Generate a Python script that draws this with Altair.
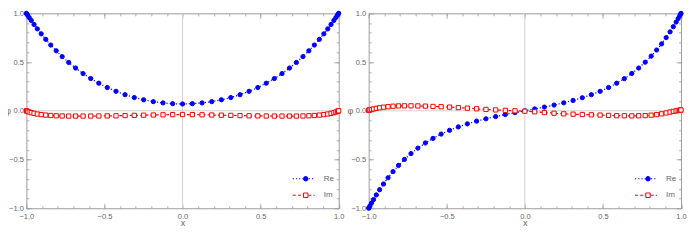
import altair as alt
import pandas as pd

# Chebyshev-like sample positions
XS = [-1.0, -0.998, -0.992, -0.982, -0.969, -0.951, -0.930, -0.905, -0.876, -0.844,
      -0.809, -0.771, -0.729, -0.685, -0.637, -0.588, -0.536, -0.482, -0.426, -0.368,
      -0.309, -0.249, -0.187, -0.125, -0.063, 0.0, 0.063, 0.125, 0.187, 0.249,
      0.309, 0.368, 0.426, 0.482, 0.536, 0.588, 0.637, 0.685, 0.729, 0.771,
      0.809, 0.844, 0.876, 0.905, 0.930, 0.951, 0.969, 0.982, 0.992, 0.998, 1.0]

LEFT_RE = [1.000, 0.995, 0.981, 0.957, 0.927, 0.886, 0.841, 0.790, 0.733, 0.675,
           0.616, 0.556, 0.496, 0.439, 0.382, 0.331, 0.283, 0.239, 0.200, 0.165,
           0.136, 0.113, 0.094, 0.081, 0.073, 0.070, 0.073, 0.081, 0.094, 0.113,
           0.136, 0.165, 0.200, 0.239, 0.283, 0.331, 0.382, 0.439, 0.496, 0.556,
           0.616, 0.675, 0.733, 0.790, 0.841, 0.886, 0.927, 0.957, 0.981, 0.995, 1.000]

LEFT_IM = [0.000, -0.002, -0.006, -0.012, -0.019, -0.026, -0.033, -0.039, -0.044, -0.048,
           -0.051, -0.053, -0.054, -0.054, -0.054, -0.054, -0.053, -0.052, -0.051, -0.049,
           -0.047, -0.045, -0.043, -0.041, -0.039, -0.038, -0.039, -0.041, -0.043, -0.045,
           -0.047, -0.049, -0.051, -0.052, -0.053, -0.054, -0.054, -0.054, -0.054, -0.053,
           -0.051, -0.048, -0.044, -0.039, -0.033, -0.026, -0.019, -0.012, -0.006, -0.002, 0.000]

RIGHT_RE = [-1.000, -0.994, -0.976, -0.947, -0.911, -0.863, -0.810, -0.751, -0.687, -0.624,
            -0.561, -0.499, -0.439, -0.383, -0.330, -0.283, -0.239, -0.200, -0.165, -0.134,
            -0.106, -0.082, -0.059, -0.038, -0.019, 0.000, 0.019, 0.038, 0.059, 0.082,
            0.106, 0.134, 0.165, 0.200, 0.239, 0.283, 0.330, 0.383, 0.439, 0.499,
            0.561, 0.624, 0.687, 0.751, 0.810, 0.863, 0.911, 0.947, 0.976, 0.994, 1.000]

RIGHT_IM = [0.005, 0.007, 0.010, 0.014, 0.019, 0.025, 0.031, 0.037, 0.042, 0.047,
            0.050, 0.051, 0.051, 0.050, 0.048, 0.045, 0.042, 0.038, 0.033, 0.027,
            0.021, 0.014, 0.009, 0.004, 0.000, -0.004, -0.010, -0.018, -0.025, -0.031,
            -0.035, -0.038, -0.041, -0.044, -0.047, -0.050, -0.051, -0.052, -0.051, -0.049,
            -0.045, -0.039, -0.031, -0.022, -0.013, -0.006, -0.001, 0.003, 0.006, 0.007, 0.008]

SERIES = ["Re", "Im"]
ZERO = [0.0]
MAJOR_TICKS = [-1.0, -0.5, 0.0, 0.5, 1.0]
MINOR_TICKS = [-1.0, -0.9, -0.8, -0.7, -0.6, -0.5, -0.4, -0.3, -0.2, -0.1, 0.0,
               0.1, 0.2, 0.3, 0.4, 0.5, 0.6, 0.7, 0.8, 0.9, 1.0]

BLUE = "#0000ff"
RED = "#ff0000"
FRAME = "#9d9d9d"
ZEROC = "#d0d0d0"
TXT = "#666666"
FONT = "Liberation Sans"
PW = 312.5
PH = 195


def axis(orient, major, labels=False, title=None):
    kw = dict(orient=orient, values=MAJOR_TICKS if major else MINOR_TICKS, grid=False,
              domain=False, tickSize=alt.ExprRef(expr="-5" if major else "-2.5"),
              tickColor=FRAME, tickWidth=0.8, labelFlush=False, labelOverlap=False,
              minExtent=0)
    if labels:
        kw.update(format=".1f", labelPadding=9, title=title, titlePadding=-1)
        if orient == "left":
            kw.update(labelPadding=8, titleAngle=0, titleAlign="right",
                      titleBaseline="middle", titlePadding=-2)
    else:
        kw.update(labels=False, title=None)
    return alt.Axis(**kw)


def line_legend():
    return alt.Legend(title=None, orient="none", legendX=PW - 47, legendY=160,
                      symbolType="stroke", symbolSize=484, symbolStrokeWidth=1.2,
                      clipHeight=11, rowPadding=5.5, labelOffset=8, padding=0,
                      labelFont=FONT, labelFontSize=8, labelColor=TXT)


def marker_legend():
    return alt.Legend(title=None, orient="none", legendX=PW - 37, legendY=160,
                      symbolSize=20, symbolStrokeWidth=1, clipHeight=11,
                      rowPadding=5.5, labelOpacity=0, padding=0,
                      labelFont=FONT, labelFontSize=8)


def panel(re_vals, im_vals):
    df = pd.DataFrame({
        "x": XS + XS,
        "phi": re_vals + im_vals,
        "series": ["Re"] * len(XS) + ["Im"] * len(XS),
    })
    zdf = pd.DataFrame({"zero": ZERO})
    xs = alt.Scale(domain=[-1, 1], nice=False, zero=False)
    ys = alt.Scale(domain=[-1, 1], nice=False, zero=False)

    vrule = alt.Chart(zdf).mark_rule(color=ZEROC, strokeWidth=1).encode(
        x=alt.X("zero:Q", scale=xs, axis=axis("bottom", True, True, "x")))
    hrule = alt.Chart(zdf).mark_rule(color=ZEROC, strokeWidth=1).encode(
        y=alt.Y("zero:Q", scale=ys, axis=axis("left", True, True, "φ")))
    lines = alt.Chart(df).mark_line(strokeWidth=1.2).encode(
        x=alt.X("x:Q", scale=xs, axis=axis("top", True)),
        y=alt.Y("phi:Q", scale=ys, axis=axis("right", True)),
        color=alt.Color("series:N", scale=alt.Scale(domain=SERIES, range=[BLUE, RED]),
                        legend=line_legend()),
        strokeDash=alt.StrokeDash("series:N",
                                  scale=alt.Scale(domain=SERIES, range=[[1.2, 2.0], [3.0, 2.2]]),
                                  legend=line_legend()),
    )
    points = alt.Chart(df).mark_point(filled=True, opacity=1, strokeWidth=1, size=18).encode(
        x=alt.X("x:Q", scale=xs, axis=axis("bottom", False)),
        y=alt.Y("phi:Q", scale=ys, axis=axis("left", False)),
        shape=alt.Shape("series:N", scale=alt.Scale(domain=SERIES, range=["circle", "square"]),
                        legend=marker_legend()),
        fill=alt.Fill("series:N", scale=alt.Scale(domain=SERIES, range=[BLUE, "#ffffff"]),
                      legend=marker_legend()),
        stroke=alt.Stroke("series:N", scale=alt.Scale(domain=SERIES, range=[BLUE, RED]),
                          legend=marker_legend()),
    )
    # invisible layer that only carries the top / right minor tick axes
    ghost = alt.Chart(df).mark_point(opacity=0).encode(
        x=alt.X("x:Q", scale=xs, axis=axis("top", False)),
        y=alt.Y("phi:Q", scale=ys, axis=axis("right", False)),
    )
    return (
        alt.layer(vrule, hrule, lines, points, ghost)
        .resolve_scale(color="independent", strokeDash="independent",
                       shape="independent", fill="independent", stroke="independent")
        .resolve_axis(x="independent", y="independent")
        .properties(width=PW, height=PH)
    )


chart = (
    alt.hconcat(panel(LEFT_RE, LEFT_IM), panel(RIGHT_RE, RIGHT_IM), spacing=29.5, bounds="flush")
    .properties(padding={"left": -4.6, "top": 0.3, "right": 0, "bottom": -1})
    .configure_axis(labelFont=FONT, labelFontSize=7.5, labelColor=TXT,
                    titleFont=FONT, titleFontSize=9, titleColor=TXT, titleFontWeight="normal")
    .configure_view(stroke=FRAME, strokeWidth=1)
)

chart.save("out.html", embed_options={"renderer": "svg", "actions": False})
